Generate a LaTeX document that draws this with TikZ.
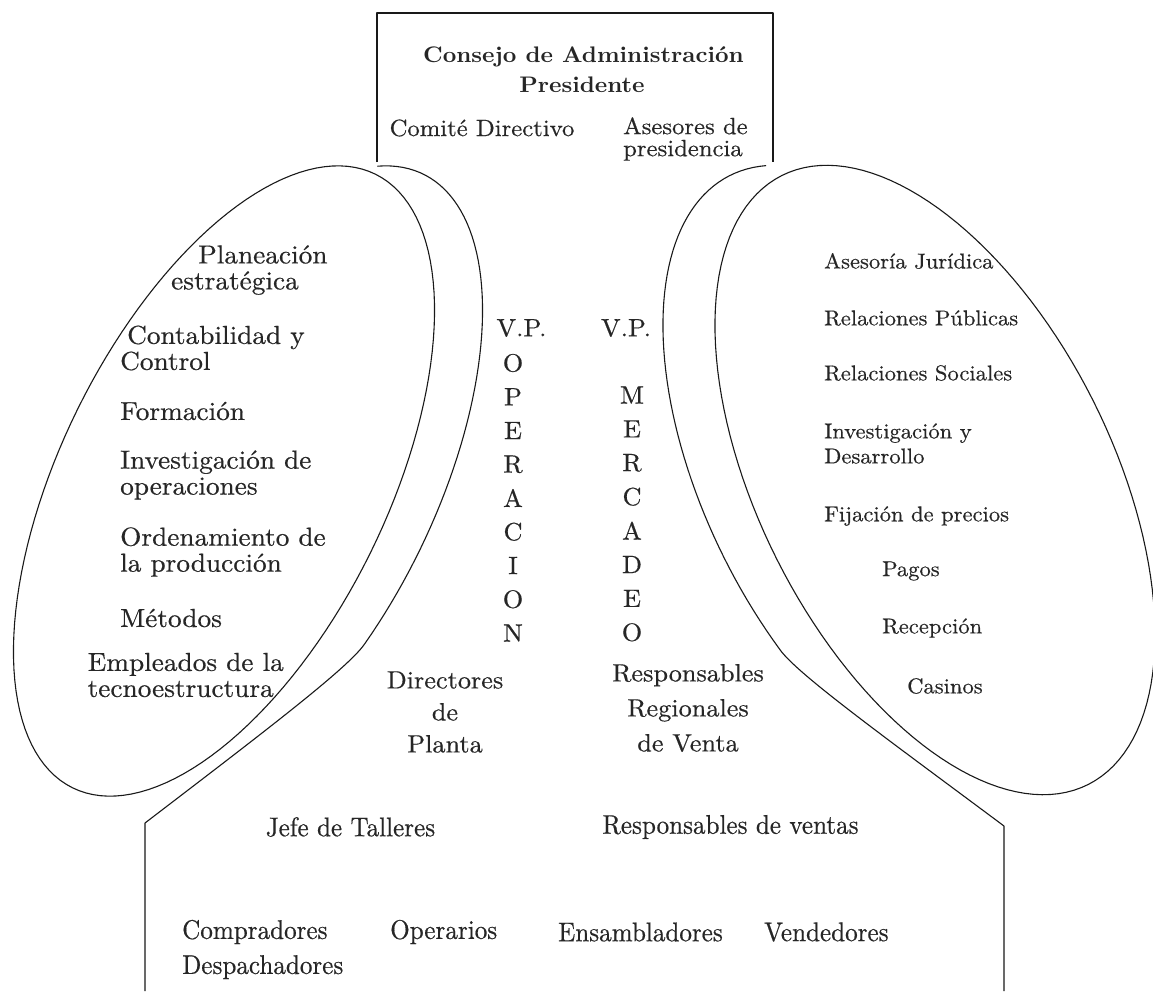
\documentclass[tikz,border=0pt]{standalone}
\usepackage{fontspec}
\setmainfont{lmroman10-regular}[Extension=.otf, BoldFont=lmroman10-bold,
  FakeStretch=1.05, UprightFeatures={FakeBold=0.5}]
\newfontfamily\narrowfont{lmroman10-regular}[Extension=.otf, FakeStretch=0.93, FakeBold=0.5]
\tikzset{
  outline/.style={line width=1.1pt, draw=black!90, line join=round},
  txt/.style={inner sep=0pt, text=black!85},
  boardtxt/.style={txt, font=\bfseries\fontsize{22.5}{28}\selectfont},
  toptxt/.style={txt, align=left, font=\fontsize{23.5}{22}\selectfont},
  leftitem/.style={txt, anchor=west, align=left, font=\fontsize{26}{26}\selectfont},
  rightitem/.style={txt, anchor=west, align=left, font=\fontsize{21.5}{25}\selectfont},
  vpletter/.style={txt, font=\fontsize{25}{25}\selectfont},
  linetxt/.style={txt, align=center, font=\fontsize{25}{32}\selectfont},
  coretxt/.style={txt, align=left, font=\narrowfont\fontsize{27}{35}\selectfont},
}
\begin{document}
\begin{tikzpicture}[x=1pt, y=-1pt]
\useasboundingbox (0,0) rectangle (1153,991);

% strategic apex box
\draw[outline] (377,162) -- (377,13) -- (773,13) -- (773,162);

% technostructure ellipse: centre (224,481), semi-axes 342/163, tilted 63.7 deg
\draw[outline] plot[domain=0:360, samples=145, variable=\t]
  ({224 + 342*cos(\t)*0.443 + 163*sin(\t)*0.897},
   {481 - 342*cos(\t)*0.897 + 163*sin(\t)*0.443}) -- cycle;
% support staff ellipse: centre (935,480), semi-axes 341/177, tilted 116.7 deg
\draw[outline] plot[domain=0:360, samples=145, variable=\t]
  ({935 - 341*cos(\t)*0.449 - 177*sin(\t)*0.893},
   {480 - 341*cos(\t)*0.893 + 177*sin(\t)*0.449}) -- cycle;

% middle line and operating core outline, following the ellipses
\draw[outline] plot[domain=-16:108, samples=60, variable=\t]
  ({272 + 342*cos(\t)*0.443 + 163*sin(\t)*0.897},
   {481 - 342*cos(\t)*0.897 + 163*sin(\t)*0.443})
  .. controls (347,669) and (260,735) .. (145,823) -- (145,991);
\draw[outline] plot[domain=-12:108, samples=60, variable=\t]
  ({883 - 341*cos(\t)*0.449 - 177*sin(\t)*0.893},
   {480 - 341*cos(\t)*0.893 + 177*sin(\t)*0.449})
  .. controls (797,674) and (890,741) .. (1004,826) -- (1004,991);

% apex
\node[boardtxt] (consejo) at (583.5,57) {Consejo de Administración};
\node[boardtxt] (presidente) at (582,85) {Presidente};
\node[toptxt] (comite) at (482,128) {Comité Directivo};
\node[toptxt, anchor=west] (asesores) at (623,139) {Asesores de\\presidencia};

% technostructure
\node[leftitem] (planeacion) at (171,270) {\hspace*{27pt}Planeación\\estratégica};
\node[leftitem] (contabilidad) at (120,348) {\hspace*{7pt}Contabilidad y\\Control};
\node[leftitem] (formacion) at (120,411) {Formación};
\node[leftitem] (investop) at (120,475) {Investigación de\\operaciones};
\node[leftitem] (ordenamiento) at (120,552) {Ordenamiento de\\la producción};
\node[leftitem] (metodos) at (120,618) {Métodos};
\node[leftitem] (empleados) at (87.5,675) {Empleados de la\\tecnoestructura};

% support staff
\node[rightitem] (juridica) at (824,261) {Asesoría Jurídica};
\node[rightitem] (publicas) at (824,318) {Relaciones Públicas};
\node[rightitem] (sociales) at (824,373) {Relaciones Sociales};
\node[rightitem] (id) at (824,443.5) {Investigación y\\Desarrollo};
\node[rightitem] (precios) at (824,516) {Fijación de precios};
\node[rightitem] (pagos) at (882,571) {Pagos};
\node[rightitem] (recepcion) at (882,628) {Recepción};
\node[rightitem] (casinos) at (907,686) {Casinos};

% vice-presidencies, spelled downwards
\node[vpletter] (vpop) at (521.5,328) {V.P.};
\foreach \l [count=\i] in {O,P,E,R,A,C,I,O,N}
  \node[vpletter] (op\i) at (513,{363+33.75*(\i-1)}) {\l};
\node[vpletter] (vpmer) at (626,328) {V.P.};
\foreach \l [count=\i] in {M,E,R,C,A,D,E,O}
  \node[vpletter] (mer\i) at (632,{395+33.9*(\i-1)}) {\l};

% middle line
\node[linetxt] (directores) at (445,712) {Directores\\de\\Planta};
\node[linetxt, font=\fontsize{25}{35}\selectfont] (regionales) at (688,708) {Responsables\\Regionales\\de Venta};

% operating core
\node[coretxt] (jefe) at (350.5,827) {Jefe de Talleres};
\node[coretxt] (ventas) at (730.5,827) {Responsables de ventas};
\node[coretxt, anchor=west] (compradores) at (182,949.5) {Compradores\\Despachadores};
\node[coretxt, anchor=west] (operarios) at (390,932) {Operarios};
\node[coretxt, anchor=west] (ensambladores) at (558,932) {Ensambladores};
\node[coretxt, anchor=west] (vendedores) at (764,932) {Vendedores};
\end{tikzpicture}
\end{document}
